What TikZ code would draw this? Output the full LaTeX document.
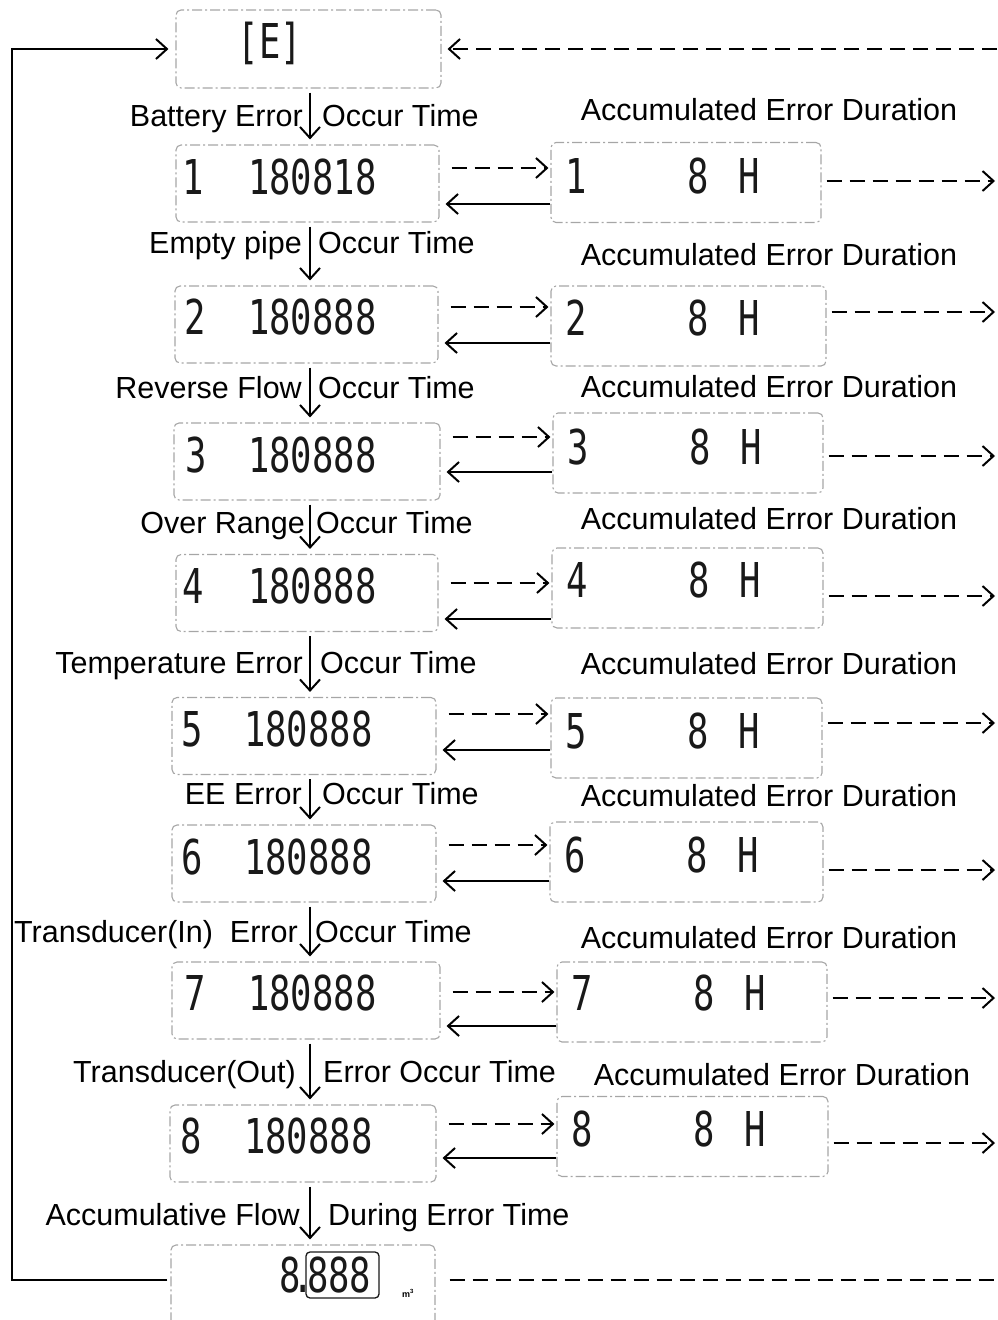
\documentclass[tikz,border=0pt]{standalone}
\usepackage{fontspec}
\setmainfont{Liberation Sans}
\newfontfamily\lcdf{DejaVu Sans Mono}
\usetikzlibrary{arrows.meta}
\newcommand\lcdtxt[1]{\scalebox{0.74}[1]{\lcdf\fontsize{48}{48}\selectfont #1}}
\begin{document}
\begin{tikzpicture}[x=1pt,y=-1pt,
  lcdbox/.style={draw=black!35, line width=1.1pt, rounded corners=5pt,
    dash pattern=on 10pt off 3pt on 2pt off 3pt, inner sep=0pt},
  lbl/.style={font=\fontsize{30.5}{31}\selectfont, inner sep=0pt},
  seg/.style={inner sep=0pt, text=black!90},
  conn/.style={line width=2pt, -{Straight Barb[length=11pt,width=20pt,line width=2pt]}},
  dconn/.style={conn, dash pattern=on 15pt off 8pt},
  dline/.style={line width=2pt, dash pattern=on 15pt off 8pt},
]
\useasboundingbox (0,0) rectangle (997,1320);

% top box
\node[lcdbox, minimum width=265, minimum height=78] (L0) at (308.5,49) {};
\node[seg, anchor=base] (E0) at (270,58.5) {\lcdtxt{[E]}};

% rows
\foreach \i/\lx/\ly/\lw/\rx/\ry/\rw/\dy/\sy/\oy/\num/\ix/\nx/\ldy/\rdy in {
  1/307.5/183.5/263/686/182.5/270/168/204/181/180818/193/248/177/176,
  2/306.5/324.5/263/688.5/326/275/307/343/312/180888/195/248/317/318,
  3/307/461.5/266/688/453/270/437/472/456/180888/196/248/455/447,
  4/307/593/262/687.5/588/271/583/619/596/180888/193/248/586/580,
  5/304/736/264/686.5/738/271/714/750/723/180888/192/244/729/731,
  6/304/863.5/264/686.5/862/273/845/881/870/180888/192/244/857/855,
  7/306/1000.5/268/692/1002/270/992/1026/998/180888/195/248/993/993,
  8/303/1143.5/266/692.5/1136.5/271/1124/1158/1143/180888/191/244/1136/1129}
{
  \node[lcdbox, minimum width=\lw, minimum height=77] (L\i) at (\lx,\ly) {};
  \node[lcdbox, minimum width=\rw, minimum height=80] (R\i) at (\rx,\ry) {};
  \node[seg, anchor=base] (Li\i) at (\ix,{\ldy+17.5}) {\lcdtxt{\i}};
  \node[seg, anchor=base west] (Ln\i) at (\nx,{\ldy+17.5}) {\lcdtxt{\num}};
  \node[seg, anchor=base] (Ri\i) at ({\rx-\rw/2+25},{\rdy+17.5}) {\lcdtxt{\i}};
  \node[seg, anchor=base] (Re\i) at ({\rx-\rw/2+147},{\rdy+17.5}) {\lcdtxt{8}};
  \node[seg, anchor=base] (Rh\i) at ({\rx-\rw/2+198},{\rdy+17.5}) {\lcdtxt{H}};
  \coordinate (D\i) at (0,\dy);
  \coordinate (S\i) at (0,\sy);
  \coordinate (O\i) at (995,\oy);
  \draw[dconn, shorten <=12pt, shorten >=2pt] (L\i.east |- D\i) -- (R\i.west |- D\i);
  \draw[conn, shorten >=6pt] (R\i.west |- S\i) -- (L\i.east |- S\i);
  \draw[dconn, shorten <=5pt] (R\i.east |- O\i) -- (O\i);
}

% bottom box
\node[lcdbox, minimum width=264, minimum height=150] (L9) at (303,1320) {};
\node[seg, anchor=base west] (T9) at (279,1292.5) {\lcdtxt{8\hspace{-11pt}.\hspace{-9pt}888}};
\draw[black!90, line width=1.3pt, rounded corners=4pt] (306,1252) rectangle (379,1298);
\node[inner sep=0pt, font=\bfseries\fontsize{9}{9}\selectfont] (M9) at (408,1293) {m\textsuperscript{3}};

% down arrows
\coordinate (ax) at (310,0);
\foreach \a/\b in {0/1,1/2,2/3,3/4,4/5,5/6,6/7,7/8,8/9}
  \draw[conn, shorten <=4pt, shorten >=5pt] (L\a.south -| ax) -- (L\b.north -| ax);

% left labels
\foreach \k/\y/\le/\rs/\lt/\rt in {
  1/116/303/322/{Battery Error}/{Occur Time},
  2/243/302/318/{Empty pipe}/{Occur Time},
  3/388/302/318/{Reverse Flow}/{Occur Time},
  4/523/305/316/{Over Range}/{Occur Time},
  5/663/303/320/{Temperature Error}/{Occur Time},
  6/794/302/322/{EE Error}/{Occur Time},
  7/932/298/315/{Transducer(In)\ \ Error}/{Occur Time},
  8/1072/296/323/{Transducer(Out)}/{Error Occur Time},
  9/1215/300/328/{Accumulative Flow}/{During Error Time}}
{
  \node[lbl, anchor=base east] (la\k) at (\le,{\y+10.5}) {\lt};
  \node[lbl, anchor=base west] (lb\k) at (\rs,{\y+10.5}) {\rt};
}

% right labels
\foreach \k/\x/\y in {1/769/110,2/769/255,3/769/387,4/769/519,5/769/664,6/769/796,7/769/938,8/782/1075}
  \node[lbl, anchor=base] (ra\k) at (\x,{\y+10.5}) {Accumulated Error Duration};

% loop connectors
\coordinate (lb) at (12,1280);
\coordinate (lt) at (12,49);
\coordinate (tr) at (997,49);
\coordinate (br) at (997,1280);
\draw[conn, shorten >=7pt, shorten <=3pt] (L9.west |- lb) -- (lb) -- (lt) -- (L0.west);
\draw[dconn, shorten >=6pt] (tr) -- (L0.east);
\draw[dline, shorten <=14pt] (L9.east |- br) -- (br);
\end{tikzpicture}
\end{document}
